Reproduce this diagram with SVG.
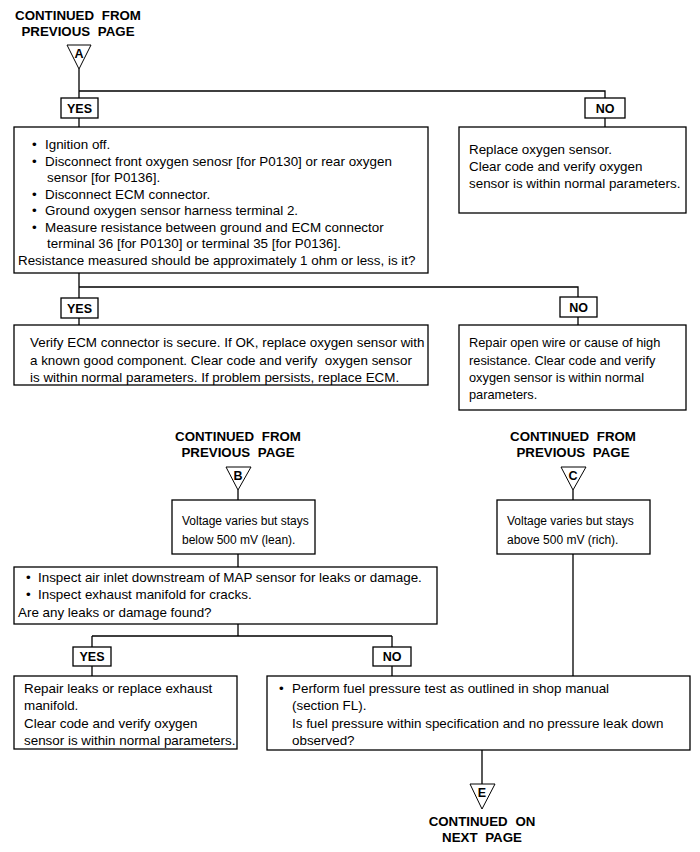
<svg xmlns="http://www.w3.org/2000/svg" width="700" height="852" viewBox="0 0 700 852">
<style>
.bx{fill:#fff;stroke:#000;stroke-width:1.3}
.ln{fill:none;stroke:#000;stroke-width:1.3}
.t{font-family:"Liberation Sans",Arial,sans-serif;font-size:13.4px;fill:#000}
.s{font-size:12px}
.m{font-size:12.8px}
.h{font-family:"Liberation Sans",Arial,sans-serif;font-size:13.3px;font-weight:bold;fill:#000;text-anchor:middle;word-spacing:4px}
.l{font-family:"Liberation Sans",Arial,sans-serif;font-size:12.5px;font-weight:bold;fill:#000;text-anchor:middle}
.tri{fill:#fff;stroke:#000;stroke-width:1}
</style>
<rect width="700" height="852" fill="#fff"/>
<g id="connectors">
<path class="ln" d="M79,69V98M79,91H605V98M79,118V127M605,118V127"/>
<path class="ln" d="M79,273V298M79,287H578V297M79,318V325M578,317V325"/>
<path class="ln" d="M238,490V500M573,490V500M238,554V567"/>
<path class="ln" d="M238,624V636M92,636H392M92,636V647M392,636V647M92,666V676M392,666V676"/>
<path class="ln" d="M573,554V676M482,750V784"/>
</g>
<g id="startA">
<text class="h" x="78" y="20">CONTINUED FROM</text>
<text class="h" x="78" y="36">PREVIOUS PAGE</text>
<polygon class="tri" points="67,45 91,45 79,69"/>
<text class="l" x="79" y="58" font-size="11.5">A</text>
</g>
<g id="yes1"><rect class="bx" x="61" y="98" width="37" height="20"/><text class="l" x="79.5" y="112.5">YES</text></g>
<g id="no1"><rect class="bx" x="585" y="98" width="40" height="20"/><text class="l" x="605" y="112.5">NO</text></g>
<g id="step1">
<rect class="bx" x="14" y="127" width="414" height="146"/>
<text class="t" x="32" y="149">•</text><text class="t" x="45" y="149">Ignition off.</text>
<text class="t" x="32" y="165.5">•</text><text class="t" x="45" y="165.5">Disconnect front oxygen senosr [for P0130] or rear oxygen</text>
<text class="t" x="47" y="182">sensor [for P0136].</text>
<text class="t" x="32" y="198.5">•</text><text class="t" x="45" y="198.5">Disconnect ECM connector.</text>
<text class="t" x="32" y="215">•</text><text class="t" x="45" y="215">Ground oxygen sensor harness terminal 2.</text>
<text class="t" x="32" y="231.5">•</text><text class="t" x="45" y="231.5">Measure resistance between ground and ECM connector</text>
<text class="t" x="47" y="248">terminal 36 [for P0130] or terminal 35 [for P0136].</text>
<text class="t" x="18" y="264.5">Resistance measured should be approximately 1 ohm or less, is it?</text>
</g>
<g id="replace1">
<rect class="bx" x="459" y="127" width="227" height="86"/>
<text class="t" x="469" y="154">Replace oxygen sensor.</text>
<text class="t" x="469" y="171">Clear code and verify oxygen</text>
<text class="t" x="469" y="188">sensor is within normal parameters.</text>
</g>
<g id="yes2"><rect class="bx" x="61" y="298" width="37" height="20"/><text class="l" x="79.5" y="312.5">YES</text></g>
<g id="no2"><rect class="bx" x="560" y="297" width="37" height="20"/><text class="l" x="578.5" y="311.5">NO</text></g>
<g id="verify">
<rect class="bx" x="14" y="325" width="414" height="60"/>
<text class="t" x="30" y="347">Verify ECM connector is secure. If OK, replace oxygen sensor with</text>
<text class="t" x="30" y="365" style="white-space:pre">a known good component. Clear code and verify  oxygen sensor</text>
<text class="t" x="30" y="382">is within normal parameters. If problem persists, replace ECM.</text>
</g>
<g id="repair1">
<rect class="bx" x="459" y="325" width="227" height="85"/>
<text class="t m" x="469" y="347">Repair open wire or cause of high</text>
<text class="t m" x="469" y="365">resistance. Clear code and verify</text>
<text class="t m" x="469" y="382">oxygen sensor is within normal</text>
<text class="t m" x="469" y="399">parameters.</text>
</g>
<g id="startB">
<text class="h" x="238" y="441">CONTINUED FROM</text>
<text class="h" x="238" y="457">PREVIOUS PAGE</text>
<polygon class="tri" points="226,467 251,467 238,490"/>
<text class="l" x="238" y="480" font-size="11.5">B</text>
</g>
<g id="lean">
<rect class="bx" x="172" y="500" width="143" height="54"/>
<text class="t s" x="182" y="525">Voltage varies but stays</text>
<text class="t s" x="182" y="544">below 500 mV (lean).</text>
</g>
<g id="startC">
<text class="h" x="573" y="441">CONTINUED FROM</text>
<text class="h" x="573" y="457">PREVIOUS PAGE</text>
<polygon class="tri" points="561,467 586,467 573,490"/>
<text class="l" x="573" y="480" font-size="11.5">C</text>
</g>
<g id="rich">
<rect class="bx" x="497" y="500" width="153" height="54"/>
<text class="t s" x="507" y="525">Voltage varies but stays</text>
<text class="t s" x="507" y="544">above 500 mV (rich).</text>
</g>
<g id="inspect">
<rect class="bx" x="14" y="567" width="423" height="57"/>
<text class="t" x="26" y="582">•</text><text class="t" x="38" y="582">Inspect air inlet downstream of MAP sensor for leaks or damage.</text>
<text class="t" x="26" y="599">•</text><text class="t" x="38" y="599">Inspect exhaust manifold for cracks.</text>
<text class="t" x="18" y="617">Are any leaks or damage found?</text>
</g>
<g id="yes3"><rect class="bx" x="73" y="647" width="38" height="19"/><text class="l" x="92" y="661">YES</text></g>
<g id="no3"><rect class="bx" x="373" y="647" width="38" height="19"/><text class="l" x="392" y="661">NO</text></g>
<g id="repair2">
<rect class="bx" x="14" y="676" width="223" height="73"/>
<text class="t" x="24" y="693">Repair leaks or replace exhaust</text>
<text class="t" x="24" y="710">manifold.</text>
<text class="t" x="24" y="728">Clear code and verify oxygen</text>
<text class="t" x="24" y="745">sensor is within normal parameters.</text>
</g>
<g id="fuel">
<rect class="bx" x="267" y="676" width="423" height="74"/>
<text class="t" x="279" y="693">•</text><text class="t" x="292" y="693">Perform fuel pressure test as outlined in shop manual</text>
<text class="t" x="292" y="710">(section FL).</text>
<text class="t" x="292" y="728">Is fuel pressure within specification and no pressure leak down</text>
<text class="t" x="292" y="745">observed?</text>
</g>
<g id="endE">
<polygon class="tri" points="470,784 495,784 482,809"/>
<text class="l" x="482" y="797" font-size="11.5">E</text>
<text class="h" x="482" y="826">CONTINUED ON</text>
<text class="h" x="482" y="842">NEXT PAGE</text>
</g>
</svg>
